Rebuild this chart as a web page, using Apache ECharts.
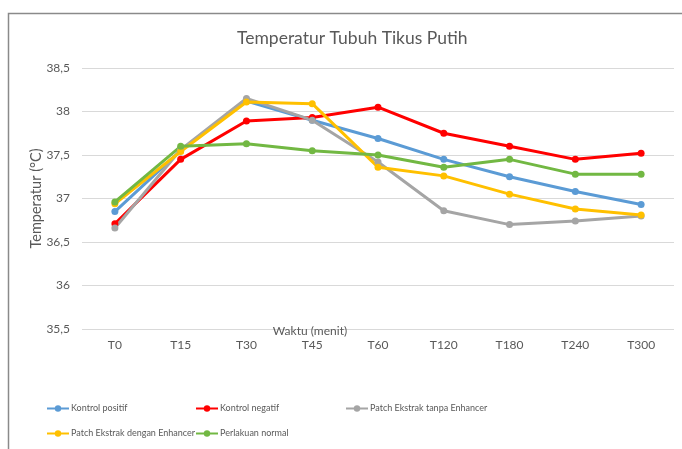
<!DOCTYPE html>
<html>
<head>
<meta charset="utf-8">
<script src="https://cdn.jsdelivr.net/npm/echarts@6/dist/echarts.min.js"></script>
<style>
  html, body { margin: 0; padding: 0; background: #fff; }
  #chart { width: 682px; height: 449px; }
</style>
</head>
<body>
<div id="chart"></div>
<script>
// waktu pengukuran
const categories = ['T0', 'T15', 'T30', 'T45', 'T60', 'T120', 'T180', 'T240', 'T300']

const kontrolPositif = [36.85, 37.55, 38.12, 37.90, 37.69, 37.45, 37.25, 37.08, 36.93]
const kontrolNegatif = [36.71, 37.45, 37.89, 37.93, 38.05, 37.75, 37.60, 37.45, 37.52]
const tanpaEnhancer = [36.66, 37.56, 38.15, 37.90, 37.42, 36.86, 36.70, 36.74, 36.80]
const denganEnhancer = [36.94, 37.54, 38.11, 38.09, 37.36, 37.26, 37.05, 36.88, 36.81]
const perlakuanNormal = [36.96, 37.60, 37.63, 37.55, 37.50, 37.36, 37.45, 37.28, 37.28]

const seriesList = [
  { name: 'Kontrol positif', data: kontrolPositif, color: '#5B9BD5' },
  { name: 'Kontrol negatif', data: kontrolNegatif, color: '#FF0000' },
  { name: 'Patch Ekstrak tanpa Enhancer', data: tanpaEnhancer, color: '#A5A5A5' },
  { name: 'Patch Ekstrak dengan Enhancer', data: denganEnhancer, color: '#FFC000' },
  { name: 'Perlakuan normal', data: perlakuanNormal, color: '#72B843' }
]

const font = 'Lato, "Open Sans", sans-serif'
const textColor = '#595959'

// legend: 3 kolom, 2 baris
const legendPos = [
  { left: 46, top: 404 },
  { left: 195, top: 404 },
  { left: 345, top: 404 },
  { left: 46, top: 429 },
  { left: 195, top: 429 }
]

const chart = echarts.init(document.getElementById('chart'))

const option = {
  animation: false,
  title: {
    text: 'Temperatur Tubuh Tikus Putih',
    left: 232,
    top: 24,
    textStyle: { fontFamily: font, fontSize: 17.5, fontWeight: 'normal', color: textColor }
  },
  graphic: [
    {
      type: 'rect',
      shape: { x: 8.5, y: 13.5, width: 700, height: 460 },
      style: { fill: 'none', stroke: '#8a8a8a', lineWidth: 1.5 },
      silent: true
    }
  ],
  legend: seriesList.map((s, i) => ({
    data: [s.name],
    left: legendPos[i].left,
    top: legendPos[i].top,
    padding: 0,
    itemWidth: 22,
    itemHeight: 8,
    textStyle: { fontFamily: font, fontSize: 9, color: textColor, padding: [0, 0, 0, -3] }
  })),
  grid: {
    left: 82,
    right: 8,
    top: 68,
    bottom: 120
  },
  xAxis: {
    type: 'category',
    data: categories,
    name: 'Waktu (menit)',
    nameLocation: 'middle',
    nameGap: 2,
    nameMoveOverlap: false,
    nameTextStyle: {
      fontFamily: font, fontSize: 12, color: textColor,
      verticalAlign: 'middle', padding: [0, 136, 0, 0]
    },
    axisLine: { show: false },
    axisTick: { show: false },
    axisLabel: { fontFamily: font, fontSize: 12, color: textColor, margin: 10 }
  },
  yAxis: {
    type: 'value',
    min: 35.5,
    max: 38.5,
    interval: 0.5,
    name: 'Temperatur (°C)',
    nameLocation: 'middle',
    nameGap: 38,
    nameMoveOverlap: false,
    nameTextStyle: { fontFamily: font, fontSize: 14.5, color: textColor },
    axisLabel: {
      fontFamily: font,
      fontSize: 12,
      color: textColor,
      margin: 12,
      formatter: v => String(v).replace('.', ',')
    },
    splitLine: { lineStyle: { color: '#d9d9d9', width: 1 } }
  },
  series: seriesList.map(s => ({
    name: s.name,
    type: 'line',
    data: s.data,
    symbol: 'circle',
    symbolSize: 7,
    lineStyle: { color: s.color, width: 3 },
    itemStyle: { color: s.color }
  }))
}

chart.setOption(option)
</script>
</body>
</html>
